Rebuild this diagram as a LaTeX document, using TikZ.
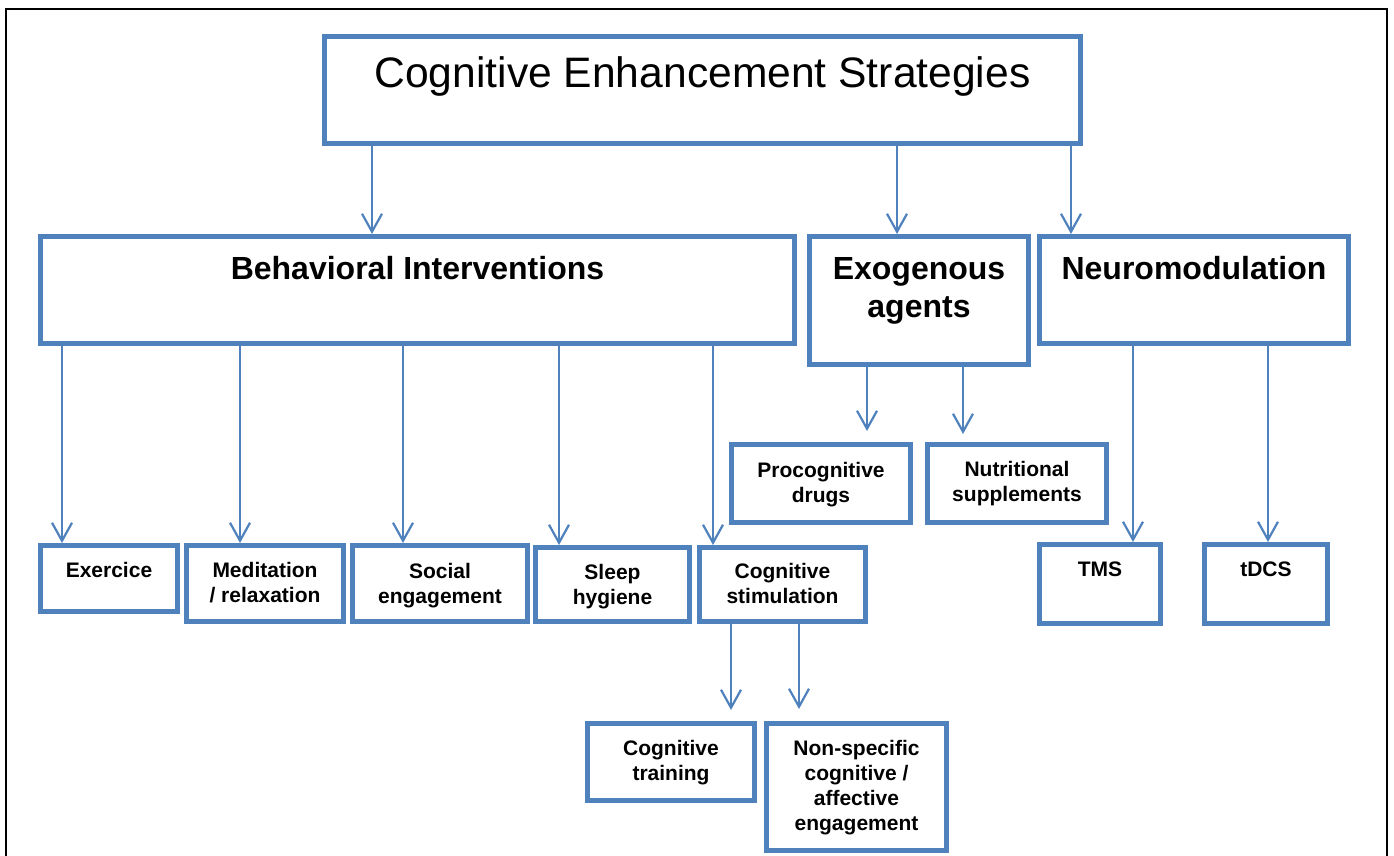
\documentclass[tikz,border=0pt]{standalone}
\usepackage{fontspec}
\setmainfont{Liberation Sans}
\usetikzlibrary{arrows.meta}
\definecolor{boxblue}{HTML}{4F81BD}
\begin{document}
\begin{tikzpicture}[x=0.5pt,y=-0.5pt,
  box/.style={draw=boxblue,line width=2.5pt,rectangle,inner sep=0pt},
  head/.style={font=\fontsize{21.3}{25}\selectfont,anchor=base,inner sep=0pt},
  big/.style={font=\bfseries\fontsize{16}{19}\selectfont,align=center,anchor=base,inner sep=0pt},
  small/.style={font=\bfseries\fontsize{10.5}{12.5}\selectfont,align=center,anchor=base,inner sep=0pt},
  arr/.style={draw=boxblue,line width=1.1pt,-{Straight Barb[length=9pt,width=10pt]}}]
\useasboundingbox (0,0) rectangle (1394,856);
\draw[line width=1pt] (6,856) -- (6,9) -- (1387,9) -- (1387,856);

% top level
\node[box,minimum width=378pt,minimum height=53.5pt] (title) at (702.5,90) {};
\node[head] (title-t) at (702.5,88) {Cognitive Enhancement Strategies};

% second level (text nodes sit on the baseline of their last line)
\node[box,minimum width=377pt,minimum height=53.5pt] (beh) at (417.5,290) {};
\node[big] (beh-t) at (417.5,279) {Behavioral Interventions};
\node[box,minimum width=109.5pt,minimum height=64pt] (exo) at (919,300.5) {};
\node[big] (exo-t) at (919,317) {Exogenous\\agents};
\node[box,minimum width=154.5pt,minimum height=53.5pt] (neuro) at (1194,290) {};
\node[big] (neuro-t) at (1194,279) {Neuromodulation};

% third level
\node[box,minimum width=89.5pt,minimum height=39pt] (proc) at (821,483.5) {};
\node[small] (proc-t) at (821,502) {Procognitive\\drugs};
\node[box,minimum width=89.5pt,minimum height=39pt] (nutr) at (1017,483.5) {};
\node[small] (nutr-t) at (1017,501) {Nutritional\\supplements};

\node[box,minimum width=68.5pt,minimum height=33pt] (exer) at (109,578.5) {};
\node[small] (exer-t) at (109,577) {Exercice};
\node[box,minimum width=78.5pt,minimum height=38pt] (medi) at (265,583.5) {};
\node[small] (medi-t) at (265,602) {Meditation\\/ relaxation};
\node[box,minimum width=87.5pt,minimum height=38pt] (soci) at (440,583.5) {};
\node[small] (soci-t) at (440,603) {Social\\engagement};
\node[box,minimum width=77pt,minimum height=37pt] (slee) at (612.5,584.5) {};
\node[small] (slee-t) at (612.5,604) {Sleep\\hygiene};
\node[box,minimum width=83pt,minimum height=37pt] (cogs) at (782.5,584.5) {};
\node[small] (cogs-t) at (782.5,603) {Cognitive\\stimulation};
\node[box,minimum width=60.5pt,minimum height=39.5pt] (tms) at (1100,584) {};
\node[small] (tms-t) at (1100,576) {TMS};
\node[box,minimum width=61.5pt,minimum height=39.5pt] (tdcs) at (1266,584) {};
\node[small] (tdcs-t) at (1266,576) {tDCS};

% fourth level
\node[box,minimum width=83.5pt,minimum height=38.5pt] (cogt) at (671,762) {};
\node[small] (cogt-t) at (671,780) {Cognitive\\training};
\node[box,minimum width=90pt,minimum height=63.5pt] (nons) at (856.5,787) {};
\node[small] (nons-t) at (856.5,830) {Non-specific\\cognitive /\\affective\\engagement};

% arrows
\draw[arr] (title.south -| 372,0) -- (beh.north -| 372,0);
\draw[arr] (title.south -| 897,0) -- (exo.north -| 897,0);
\draw[arr] (title.south -| 1071,0) -- (neuro.north -| 1071,0);

\draw[arr] (beh.south -| 62,0) -- (exer.north -| 62,0);
\draw[arr] (beh.south -| 240,0) -- (medi.north -| 240,0);
\draw[arr] (beh.south -| 403,0) -- (soci.north -| 403,0);
\draw[arr] (beh.south -| 559,0) -- (slee.north -| 559,0);
\draw[arr] (beh.south -| 713,0) -- (cogs.north -| 713,0);

\draw[arr,shorten >=5.5pt] (exo.south -| 867,0) -- (proc.north -| 867,0);
\draw[arr,shorten >=4pt] (exo.south -| 963,0) -- (nutr.north -| 963,0);

\draw[arr] (neuro.south -| 1133,0) -- (tms.north -| 1133,0);
\draw[arr] (neuro.south -| 1268,0) -- (tdcs.north -| 1268,0);

\draw[arr,shorten >=5.5pt] (cogs.south -| 731,0) -- (cogt.north -| 731,0);
\draw[arr,shorten >=6pt] ([yshift=1pt]cogs.south -| 799,0) -- (nons.north -| 799,0);
\end{tikzpicture}
\end{document}
